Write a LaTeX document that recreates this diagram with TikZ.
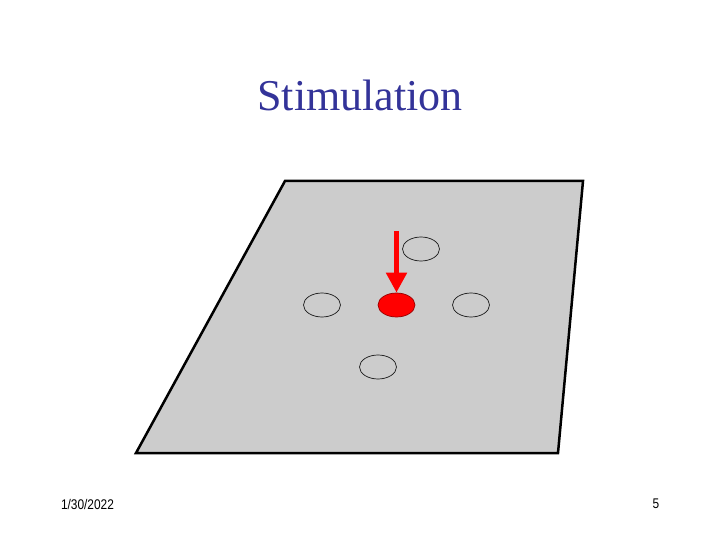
\documentclass[tikz,border=0pt]{standalone}
\usepackage{fontspec}
\setmainfont{Liberation Serif}
\newfontfamily\footfont{Liberation Sans}
\usetikzlibrary{arrows.meta}
\usetikzlibrary{shapes.geometric}

\definecolor{titleblue}{RGB}{51,51,153}
\definecolor{plategray}{RGB}{204,204,204}

\begin{document}
\begin{tikzpicture}[x=1pt,y=-1pt,
    site/.style={draw=black!90,line width=0.7pt,ellipse,minimum width=37pt,minimum height=24pt,inner sep=0pt},
    hotsite/.style={site,fill=red,draw=red!60!black},
    footer/.style={font=\footfont\fontsize{14}{16}\selectfont,xscale=0.85}]

    % white page
    \useasboundingbox[fill=white] (0,0) rectangle (720,540);

    \node[titleblue,font=\fontsize{44}{50}\selectfont] (title) at (360,95) {Stimulation};

    % draw plate
    \draw[line width=2.5pt,fill=plategray,line join=miter] (285,181) -- (583,181) -- (558,453) -- (136,453) -- cycle;

    % electrode sites
    \foreach \name/\px/\py in {top/421/249, left/322/305, right/471/305, bottom/378/367}
        \node[site] (\name) at (\px,\py) {};
    \node[hotsite] (hot) at (396.5,305) {};

    % stimulus arrow
    \coordinate (src) at (396.5,231);
    \draw[red,line width=5pt,-{Triangle[length=20pt,width=20pt]}] (src) -- (hot.north);

    % footer
    \node[footer] (date) at (87.5,504) {1/30/2022};
    \node[footer] (page) at (656,504) {5};

\end{tikzpicture}
\end{document}
